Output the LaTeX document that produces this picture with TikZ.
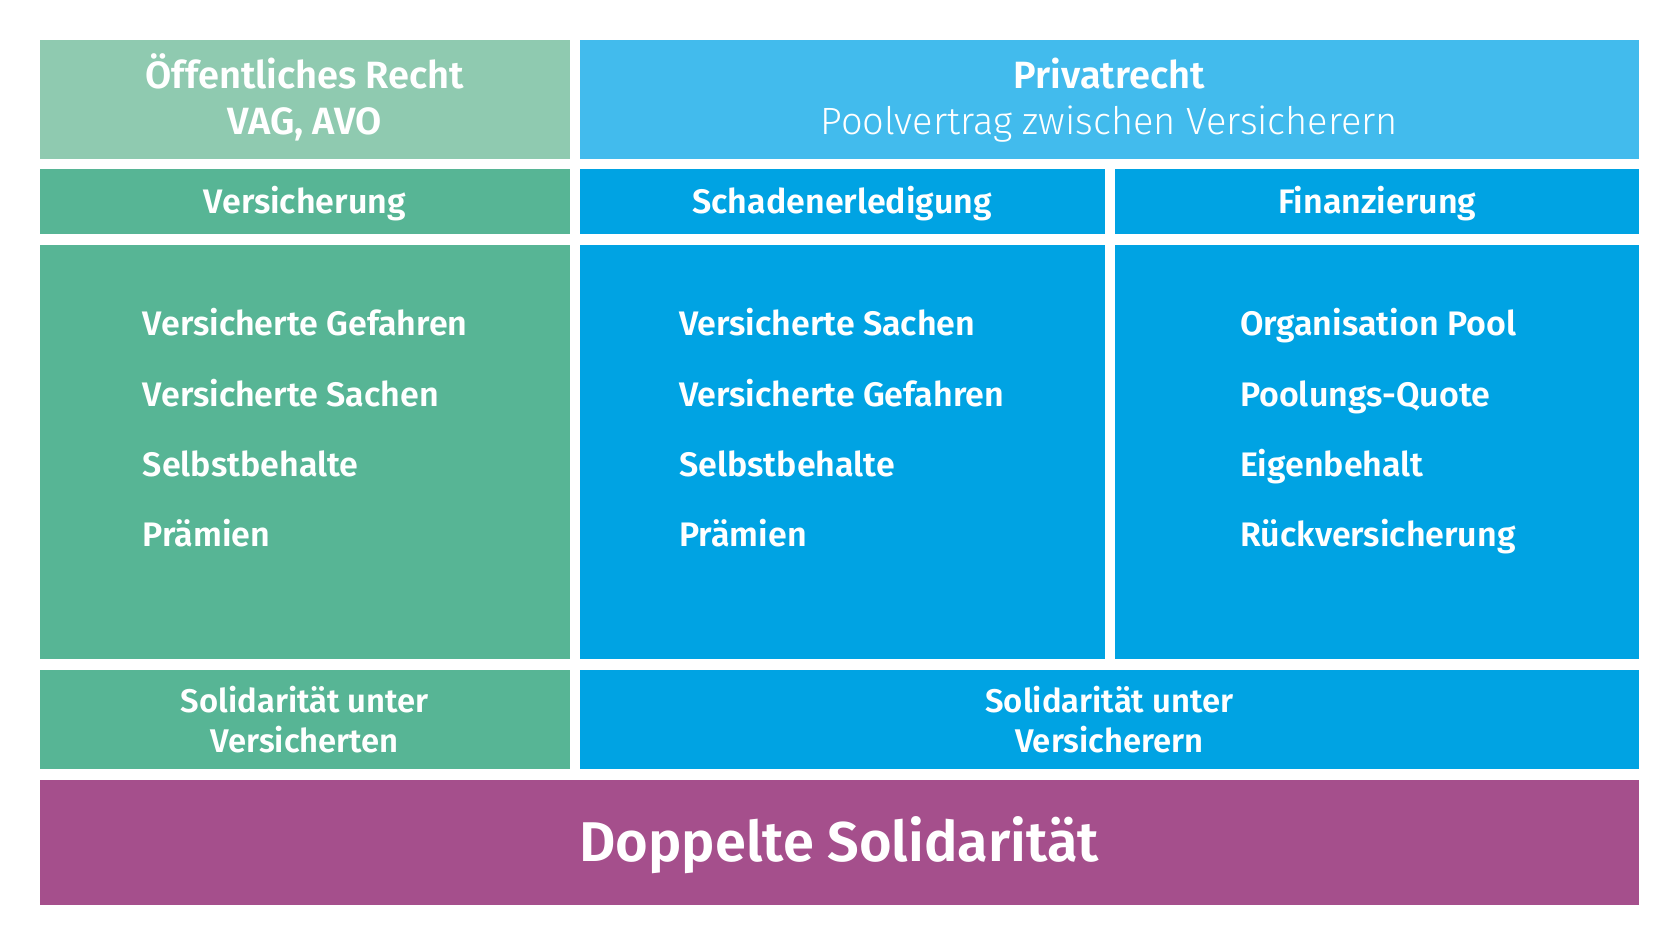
\documentclass[tikz,border=0pt]{standalone}
\usepackage{fontspec}
\setmainfont{Fira Sans}[BoldFont={* SemiBold}]
\newfontfamily\lightfont{Fira Sans Light}
\definecolor{lgreen}{HTML}{8FCAB0}
\definecolor{dgreen}{HTML}{57B595}
\definecolor{lblue}{HTML}{42BBED}
\definecolor{dblue}{HTML}{00A3E3}
\definecolor{purp}{HTML}{A54F8C}
\begin{document}
\begin{tikzpicture}[x=0.5pt,y=-0.5pt,
  box/.style={draw=none, inner sep=0pt, text=white, align=center, font=\bfseries\fontsize{17}{23}\selectfont},
  capbox/.style={box, text height=11.73pt, text depth=0pt},
  line/.style={inner sep=0pt, text=white, text height=13.1pt, text depth=0pt, font=\bfseries\fontsize{19}{23}\selectfont},
  item/.style={anchor=west, inner sep=0pt, text=white, font=\bfseries\fontsize{17}{20}\selectfont, text height=6.9pt, text depth=0pt}]
\useasboundingbox (0,0) rectangle (1680,945);
\fill[white] (0,0) rectangle (1680,945);
% row 1
\node[box, fill=lgreen, minimum width=265.2pt, minimum height=59.5pt] (oeff) at (304.8,99.1) {};
\node[box, fill=lblue, minimum width=529.7pt, minimum height=59.5pt] (priv) at (1109.3,99.1) {};
\node[line] (oeff1) at (304.8,75) {Öffentliches Recht};
\node[line] (oeff2) at (304.8,121) {VAG, AVO};
\node[line] (priv1) at (1109.3,75) {Privatrecht};
\node[line, font=\lightfont\fontsize{19}{23}\selectfont] (priv2) at (1109.3,121) {Poolvertrag zwischen Versicherern};
% row 2
\node[capbox, fill=dgreen, minimum width=265.2pt, minimum height=32.15pt] (vers) at (304.8,201.45) {Versicherung};
\node[capbox, fill=dblue, minimum width=262.5pt, minimum height=32.15pt] (schad) at (842.1,201.45) {Schadenerledigung};
\node[capbox, fill=dblue, minimum width=261.85pt, minimum height=32.15pt] (fin) at (1377.15,201.45) {Finanzierung};
% row 3
\node[box, fill=dgreen, minimum width=265.2pt, minimum height=206.8pt] (c1) at (304.8,452.2) {};
\node[box, fill=dblue, minimum width=262.5pt, minimum height=206.8pt] (c2) at (842.1,452.2) {};
\node[box, fill=dblue, minimum width=261.85pt, minimum height=206.8pt] (c3) at (1377.15,452.2) {};
% items
\node[item] (a1) at (142.5,329) {Versicherte Gefahren};
\node[item] (a2) at (142.5,399.7) {Versicherte Sachen};
\node[item] (a3) at (142.5,469.4) {Selbstbehalte};
\node[item] (a4) at (142.5,540) {Prämien};
\node[item] (b1) at (679,329) {Versicherte Sachen};
\node[item] (b2) at (679,399.7) {Versicherte Gefahren};
\node[item] (b3) at (679,469.4) {Selbstbehalte};
\node[item] (b4) at (679,540) {Prämien};
\node[item] (d1) at (1239.6,329) {Organisation Pool};
\node[item] (d2) at (1239.6,399.7) {Poolungs-Quote};
\node[item] (d3) at (1239.6,469.4) {Eigenbehalt};
\node[item] (d4) at (1239.6,540) {Rückversicherung};
% row 4
\node[box, fill=dgreen, minimum width=265.2pt, minimum height=49.85pt, font=\bfseries\fontsize{16.4}{20.3}\selectfont] (sol1) at (304.8,719.45) {Solidarität unter\\Versicherten};
\node[box, fill=dblue, minimum width=529.7pt, minimum height=49.85pt, font=\bfseries\fontsize{16.4}{20.3}\selectfont] (sol2) at (1109.3,719.45) {Solidarität unter\\Versicherern};
% row 5
\node[box, fill=purp, minimum width=799.7pt, minimum height=62.65pt, text height=19.3pt, text depth=0pt, font=\bfseries\fontsize{28}{32}\selectfont] (dop) at (839.3,842.65) {Doppelte Solidarität};
\end{tikzpicture}
\end{document}
